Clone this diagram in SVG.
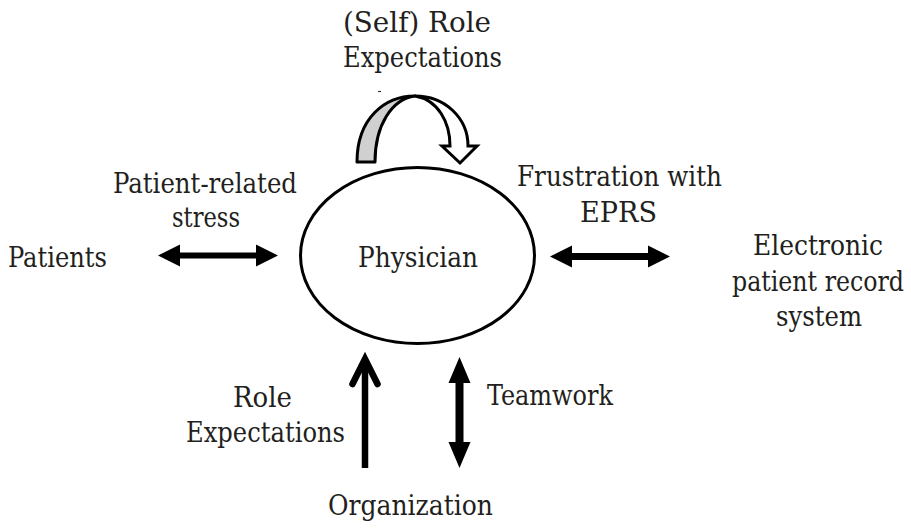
<svg xmlns="http://www.w3.org/2000/svg" width="911" height="528" viewBox="0 0 911 528">
<style>
text{font-family:"DejaVu Serif","Liberation Serif",serif;font-stretch:condensed;font-size:28.5px;fill:#231f20;text-anchor:middle}
.blk{fill:#000;stroke:none}
.ln{fill:none;stroke:#000;stroke-width:6.5}
</style>
<rect width="911" height="528" fill="#fff"/>
<g id="physician">
<ellipse cx="417.5" cy="255.5" rx="117" ry="88" fill="#fff" stroke="#000" stroke-width="3"/>
<text x="418" y="267" textLength="120" lengthAdjust="spacingAndGlyphs">Physician</text>
</g>
<g id="patients"><text x="57.5" y="267" textLength="99" lengthAdjust="spacingAndGlyphs">Patients</text></g>
<g id="eprs">
<text x="818" y="255" textLength="130" lengthAdjust="spacingAndGlyphs">Electronic</text>
<text x="818" y="291" textLength="172" lengthAdjust="spacingAndGlyphs">patient record</text>
<text x="819" y="326" textLength="86" lengthAdjust="spacingAndGlyphs">system</text>
</g>
<g id="organization"><text x="410.5" y="515" textLength="165" lengthAdjust="spacingAndGlyphs">Organization</text></g>
<g id="self-role">
<path d="M357,162 C357,118 385,96 415,96 C392,99 375,125 375,162 Z" fill="#d0d0d0" stroke="#000" stroke-width="3" stroke-linejoin="round"/>
<path d="M415,96 C445,96 468,118 468,146 L477,146 L460,163 L442,146 L450,146 C450,122 438,100 415,96 Z" fill="#fff" stroke="#000" stroke-width="3" stroke-linejoin="miter"/>
<line x1="378" y1="91.5" x2="381" y2="91.5" stroke="#333" stroke-width="1.2"/>
</g>
<g id="connectors">
<path class="blk" d="M158,255.5 L180,244.5 L180,252.5 L256,252.5 L256,244.5 L278,255.5 L256,266.5 L256,258.5 L180,258.5 L180,266.5 Z"/>
<path class="blk" d="M550,256.5 L572,245.5 L572,253 L648,253 L648,245.5 L670,256.5 L648,267.5 L648,260 L572,260 L572,267.5 Z"/>
<path class="blk" d="M459.5,357 L470.5,383 L463.5,383 L463.5,442 L470.5,442 L459.5,468 L448.5,442 L455.5,442 L455.5,383 L448.5,383 Z"/>
<path class="ln" d="M365,468 L365,361"/>
<path class="ln" d="M352.5,384 L365,359 L377.5,384" stroke-linecap="round" stroke-linejoin="miter"/>
</g>
<g id="labels">
<text x="417" y="32" textLength="148" lengthAdjust="spacingAndGlyphs">(Self) Role</text>
<text x="422.5" y="67" textLength="159" lengthAdjust="spacingAndGlyphs">Expectations</text>
<text x="205" y="193" textLength="184" lengthAdjust="spacingAndGlyphs">Patient-related</text>
<text x="206" y="227" textLength="68" lengthAdjust="spacingAndGlyphs">stress</text>
<text x="619.5" y="186" textLength="205" lengthAdjust="spacingAndGlyphs">Frustration with</text>
<text x="618.5" y="222" textLength="77" lengthAdjust="spacingAndGlyphs">EPRS</text>
<text x="262.5" y="407" textLength="59" lengthAdjust="spacingAndGlyphs">Role</text>
<text x="265.5" y="442" textLength="159" lengthAdjust="spacingAndGlyphs">Expectations</text>
<text x="550" y="405" textLength="126" lengthAdjust="spacingAndGlyphs">Teamwork</text>
</g>
</svg>
